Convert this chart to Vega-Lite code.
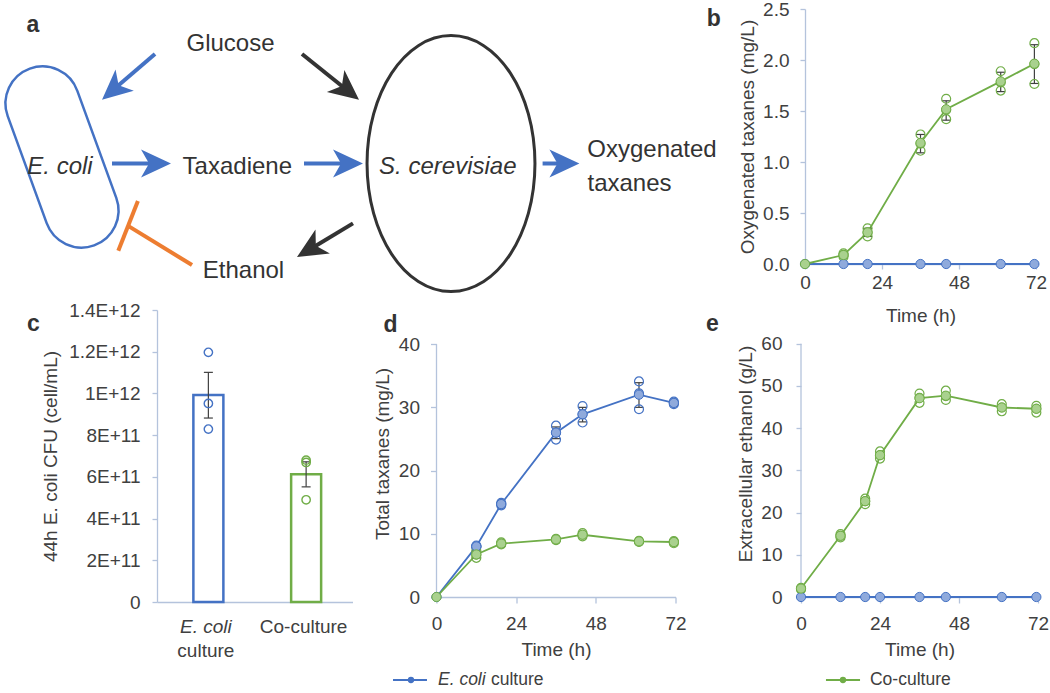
{
"$schema": "https://vega.github.io/schema/vega-lite/v6.json",
"background": "white",
"padding": 0,
"bounds": "flush",
"spacing": 301,
"resolve": {"scale": {"color": "independent", "stroke": "independent", "fill": "independent"}},
"config": {
 "font": "Liberation Sans",
 "view": {"stroke": null},
 "axis": {"domainColor": "#b4c3dc", "domainWidth": 1.3, "tickColor": "#b4c3dc", "tickWidth": 1.3, "tickSize": 5, "labelColor": "#404040", "labelFontSize": 19, "titleColor": "#404040", "titleFontSize": 19, "titleFontWeight": "normal", "grid": false, "labelFlush": false, "labelOverlap": false}
},
"datasets": {
 "cells": [
  {"name": "E. coli", "x": 6.2, "y": 15.6},
  {"name": "S. cerevisiae", "x": 45.1, "y": 16.26}
 ],
 "diagram_text": [
  {"label": "Glucose", "kind": "compound", "x": 23.05, "y": 4.95},
  {"label": "E. coli", "kind": "organism", "x": 6.0, "y": 17.3},
  {"label": "Taxadiene", "kind": "compound", "x": 23.73, "y": 17.3},
  {"label": "S. cerevisiae", "kind": "organism", "x": 44.78, "y": 17.3},
  {"label": "Oxygenated", "kind": "compound", "x": 65.2, "y": 15.6},
  {"label": "taxanes", "kind": "compound", "x": 62.95, "y": 19.0},
  {"label": "Ethanol", "kind": "compound", "x": 24.35, "y": 27.7}
 ],
 "diagram_arrows": [
  {"from": "Glucose", "to": "E. coli", "kind": "engineered", "x": 15.5, "y": 5.3, "x2": 11.71, "y2": 8.56, "tx": 10.2, "ty": 9.87, "angle": 139.2},
  {"from": "Glucose", "to": "S. cerevisiae", "kind": "native", "x": 30.2, "y": 5.3, "x2": 34.34, "y2": 8.62, "tx": 35.9, "ty": 9.87, "angle": 38.7},
  {"from": "E. coli", "to": "Taxadiene", "kind": "engineered", "x": 11.2, "y": 16.25, "x2": 15.1, "y2": 16.25, "tx": 17.1, "ty": 16.25, "angle": 0},
  {"from": "Taxadiene", "to": "S. cerevisiae", "kind": "engineered", "x": 30.4, "y": 16.25, "x2": 34.3, "y2": 16.25, "tx": 36.3, "ty": 16.25, "angle": 0},
  {"from": "S. cerevisiae", "to": "Oxygenated taxanes", "kind": "engineered", "x": 54.26, "y": 16.25, "x2": 55.94, "y2": 16.25, "tx": 57.94, "ty": 16.25, "angle": 0},
  {"from": "S. cerevisiae", "to": "Ethanol", "kind": "native", "x": 35.3, "y": 22.24, "x2": 31.42, "y2": 24.57, "tx": 29.7, "ty": 25.6, "angle": 149},
  {"from": "Ethanol", "to": "E. coli", "kind": "inhibition", "part": "line", "x": 19.2, "y": 26.4, "x2": 12.81, "y2": 22.49},
  {"from": "Ethanol", "to": "E. coli", "kind": "inhibition", "part": "bar", "x": 13.79, "y": 20.0, "x2": 11.83, "y2": 24.97}
 ],
 "b_mean": [
  {"series": "E. coli culture", "t": 0, "mean": 0, "lo": 0, "hi": 0},
  {"series": "E. coli culture", "t": 12, "mean": 0, "lo": 0, "hi": 0},
  {"series": "E. coli culture", "t": 19.5, "mean": 0, "lo": 0, "hi": 0},
  {"series": "E. coli culture", "t": 36, "mean": 0, "lo": 0, "hi": 0},
  {"series": "E. coli culture", "t": 44, "mean": 0, "lo": 0, "hi": 0},
  {"series": "E. coli culture", "t": 61, "mean": 0, "lo": 0, "hi": 0},
  {"series": "E. coli culture", "t": 71.5, "mean": 0, "lo": 0, "hi": 0},
  {"series": "Co-culture", "t": 0, "mean": 0, "lo": 0, "hi": 0},
  {"series": "Co-culture", "t": 12, "mean": 0.088, "lo": 0.075, "hi": 0.1},
  {"series": "Co-culture", "t": 19.5, "mean": 0.31, "lo": 0.27, "hi": 0.35},
  {"series": "Co-culture", "t": 36, "mean": 1.187, "lo": 1.09, "hi": 1.27},
  {"series": "Co-culture", "t": 44, "mean": 1.517, "lo": 1.41, "hi": 1.6},
  {"series": "Co-culture", "t": 61, "mean": 1.79, "lo": 1.69, "hi": 1.88},
  {"series": "Co-culture", "t": 71.5, "mean": 1.964, "lo": 1.77, "hi": 2.15}
 ],
 "b_reps": [
  {"series": "Co-culture", "t": 12, "value": 0.07}, {"series": "Co-culture", "t": 12, "value": 0.09}, {"series": "Co-culture", "t": 12, "value": 0.105},
  {"series": "Co-culture", "t": 19.5, "value": 0.35}, {"series": "Co-culture", "t": 19.5, "value": 0.31}, {"series": "Co-culture", "t": 19.5, "value": 0.27},
  {"series": "Co-culture", "t": 36, "value": 1.27}, {"series": "Co-culture", "t": 36, "value": 1.18}, {"series": "Co-culture", "t": 36, "value": 1.11},
  {"series": "Co-culture", "t": 44, "value": 1.62}, {"series": "Co-culture", "t": 44, "value": 1.51}, {"series": "Co-culture", "t": 44, "value": 1.42},
  {"series": "Co-culture", "t": 61, "value": 1.89}, {"series": "Co-culture", "t": 61, "value": 1.78}, {"series": "Co-culture", "t": 61, "value": 1.7},
  {"series": "Co-culture", "t": 71.5, "value": 2.165}, {"series": "Co-culture", "t": 71.5, "value": 1.96}, {"series": "Co-culture", "t": 71.5, "value": 1.765}
 ],
 "c_mean": [
  {"culture": "E. coli culture", "mean": 993000000000, "lo": 882000000000, "hi": 1101000000000},
  {"culture": "Co-culture", "mean": 613000000000, "lo": 552000000000, "hi": 672000000000}
 ],
 "c_reps": [
  {"culture": "E. coli culture", "value": 1197000000000},
  {"culture": "E. coli culture", "value": 952000000000},
  {"culture": "E. coli culture", "value": 829000000000},
  {"culture": "Co-culture", "value": 680000000000},
  {"culture": "Co-culture", "value": 669000000000},
  {"culture": "Co-culture", "value": 490000000000}
 ],
 "d_mean": [
  {"series": "E. coli culture", "t": 0, "mean": 0, "lo": 0, "hi": 0},
  {"series": "E. coli culture", "t": 12, "mean": 8.0, "lo": 7.85, "hi": 8.15},
  {"series": "E. coli culture", "t": 19.5, "mean": 14.7, "lo": 14.5, "hi": 14.9},
  {"series": "E. coli culture", "t": 36, "mean": 26.0, "lo": 25.05, "hi": 26.9},
  {"series": "E. coli culture", "t": 44, "mean": 28.9, "lo": 27.7, "hi": 30.0},
  {"series": "E. coli culture", "t": 61, "mean": 32.0, "lo": 30.0, "hi": 33.9},
  {"series": "E. coli culture", "t": 71.5, "mean": 30.7, "lo": 30.5, "hi": 30.9},
  {"series": "Co-culture", "t": 0, "mean": 0, "lo": 0, "hi": 0},
  {"series": "Co-culture", "t": 12, "mean": 6.73, "lo": 6.2, "hi": 7.25},
  {"series": "Co-culture", "t": 19.5, "mean": 8.45, "lo": 8.25, "hi": 8.65},
  {"series": "Co-culture", "t": 36, "mean": 9.1, "lo": 9.0, "hi": 9.2},
  {"series": "Co-culture", "t": 44, "mean": 9.85, "lo": 9.6, "hi": 10.1},
  {"series": "Co-culture", "t": 61, "mean": 8.8, "lo": 8.7, "hi": 8.9},
  {"series": "Co-culture", "t": 71.5, "mean": 8.7, "lo": 8.55, "hi": 8.85}
 ],
 "d_reps": [
  {"series": "E. coli culture", "t": 12, "value": 7.9}, {"series": "E. coli culture", "t": 12, "value": 8.0}, {"series": "E. coli culture", "t": 12, "value": 8.15},
  {"series": "E. coli culture", "t": 19.5, "value": 14.5}, {"series": "E. coli culture", "t": 19.5, "value": 14.7}, {"series": "E. coli culture", "t": 19.5, "value": 14.9},
  {"series": "E. coli culture", "t": 36, "value": 27.1}, {"series": "E. coli culture", "t": 36, "value": 26.0}, {"series": "E. coli culture", "t": 36, "value": 24.9},
  {"series": "E. coli culture", "t": 44, "value": 30.2}, {"series": "E. coli culture", "t": 44, "value": 28.9}, {"series": "E. coli culture", "t": 44, "value": 27.6},
  {"series": "E. coli culture", "t": 61, "value": 34.1}, {"series": "E. coli culture", "t": 61, "value": 32.2}, {"series": "E. coli culture", "t": 61, "value": 29.7},
  {"series": "E. coli culture", "t": 71.5, "value": 30.5}, {"series": "E. coli culture", "t": 71.5, "value": 30.7}, {"series": "E. coli culture", "t": 71.5, "value": 30.9},
  {"series": "Co-culture", "t": 12, "value": 7.3}, {"series": "Co-culture", "t": 12, "value": 6.7}, {"series": "Co-culture", "t": 12, "value": 6.2},
  {"series": "Co-culture", "t": 19.5, "value": 8.3}, {"series": "Co-culture", "t": 19.5, "value": 8.45}, {"series": "Co-culture", "t": 19.5, "value": 8.65},
  {"series": "Co-culture", "t": 36, "value": 9.0}, {"series": "Co-culture", "t": 36, "value": 9.1}, {"series": "Co-culture", "t": 36, "value": 9.2},
  {"series": "Co-culture", "t": 44, "value": 9.6}, {"series": "Co-culture", "t": 44, "value": 9.85}, {"series": "Co-culture", "t": 44, "value": 10.1},
  {"series": "Co-culture", "t": 61, "value": 8.7}, {"series": "Co-culture", "t": 61, "value": 8.8}, {"series": "Co-culture", "t": 61, "value": 8.9},
  {"series": "Co-culture", "t": 71.5, "value": 8.5}, {"series": "Co-culture", "t": 71.5, "value": 8.7}, {"series": "Co-culture", "t": 71.5, "value": 8.85}
 ],
 "e_mean": [
  {"series": "E. coli culture", "t": 0, "mean": 0, "lo": 0, "hi": 0},
  {"series": "E. coli culture", "t": 12, "mean": 0, "lo": 0, "hi": 0},
  {"series": "E. coli culture", "t": 19.5, "mean": 0, "lo": 0, "hi": 0},
  {"series": "E. coli culture", "t": 24, "mean": 0, "lo": 0, "hi": 0},
  {"series": "E. coli culture", "t": 36, "mean": 0, "lo": 0, "hi": 0},
  {"series": "E. coli culture", "t": 44, "mean": 0, "lo": 0, "hi": 0},
  {"series": "E. coli culture", "t": 61, "mean": 0, "lo": 0, "hi": 0},
  {"series": "E. coli culture", "t": 71.5, "mean": 0, "lo": 0, "hi": 0},
  {"series": "Co-culture", "t": 0, "mean": 2.0, "lo": 1.8, "hi": 2.2},
  {"series": "Co-culture", "t": 12, "mean": 14.5, "lo": 14.1, "hi": 14.9},
  {"series": "Co-culture", "t": 19.5, "mean": 22.7, "lo": 22.1, "hi": 23.3},
  {"series": "Co-culture", "t": 24, "mean": 33.6, "lo": 32.9, "hi": 34.4},
  {"series": "Co-culture", "t": 36, "mean": 47.1, "lo": 46.1, "hi": 48.1},
  {"series": "Co-culture", "t": 44, "mean": 47.7, "lo": 46.6, "hi": 48.8},
  {"series": "Co-culture", "t": 61, "mean": 44.9, "lo": 44.1, "hi": 45.7},
  {"series": "Co-culture", "t": 71.5, "mean": 44.6, "lo": 43.8, "hi": 45.3}
 ],
 "e_reps": [
  {"series": "Co-culture", "t": 0, "value": 1.8}, {"series": "Co-culture", "t": 0, "value": 2.0}, {"series": "Co-culture", "t": 0, "value": 2.2},
  {"series": "Co-culture", "t": 12, "value": 14.1}, {"series": "Co-culture", "t": 12, "value": 14.5}, {"series": "Co-culture", "t": 12, "value": 14.9},
  {"series": "Co-culture", "t": 19.5, "value": 22.0}, {"series": "Co-culture", "t": 19.5, "value": 22.7}, {"series": "Co-culture", "t": 19.5, "value": 23.3},
  {"series": "Co-culture", "t": 24, "value": 32.8}, {"series": "Co-culture", "t": 24, "value": 33.6}, {"series": "Co-culture", "t": 24, "value": 34.5},
  {"series": "Co-culture", "t": 36, "value": 46.0}, {"series": "Co-culture", "t": 36, "value": 47.2}, {"series": "Co-culture", "t": 36, "value": 48.2},
  {"series": "Co-culture", "t": 44, "value": 46.7}, {"series": "Co-culture", "t": 44, "value": 47.6}, {"series": "Co-culture", "t": 44, "value": 48.9},
  {"series": "Co-culture", "t": 61, "value": 44.0}, {"series": "Co-culture", "t": 61, "value": 44.9}, {"series": "Co-culture", "t": 61, "value": 45.7},
  {"series": "Co-culture", "t": 71.5, "value": 43.7}, {"series": "Co-culture", "t": 71.5, "value": 44.6}, {"series": "Co-culture", "t": 71.5, "value": 45.3}
 ]
},
"vconcat": [
 {
  "bounds": "flush",
  "spacing": 20,
  "resolve": {"scale": {"color": "independent", "stroke": "independent", "fill": "independent"}},
  "hconcat": [
   {
    "width": 628, "height": 282,
    "layer": [
     {"data": {"name": "cells"}, "transform": [{"filter": "datum.name == 'E. coli'"}],
      "mark": {"type": "point", "shape": "M-0.394,-0.606A0.394,0.394,0,0,1,0.394,-0.606L0.394,0.606A0.394,0.394,0,0,1,-0.394,0.606Z", "size": 35344, "angle": -20, "filled": false, "stroke": "#4472c4", "strokeWidth": 2.5, "opacity": 1},
      "encoding": {"x": {"field": "x", "type": "quantitative", "scale": {"domain": [15.7, 78.5], "nice": false, "zero": false}, "axis": null}, "y": {"field": "y", "type": "quantitative", "scale": {"domain": [0.8, 29.0], "nice": false, "zero": false, "reverse": true}, "axis": null}}},
     {"data": {"name": "cells"}, "transform": [{"filter": "datum.name == 'S. cerevisiae'"}],
      "mark": {"type": "point", "shape": "M0,-1A0.656,1,0,1,1,0,1A0.656,1,0,1,1,0,-1Z", "size": 65536, "filled": false, "stroke": "#333333", "strokeWidth": 3, "opacity": 1},
      "encoding": {"x": {"field": "x", "type": "quantitative", "axis": null}, "y": {"field": "y", "type": "quantitative", "axis": null}}},
     {"data": {"name": "diagram_arrows"},
      "mark": {"type": "rule", "strokeWidth": 4},
      "encoding": {"x": {"field": "x", "type": "quantitative", "axis": null}, "y": {"field": "y", "type": "quantitative", "axis": null}, "x2": {"field": "x2"}, "y2": {"field": "y2"},
       "color": {"field": "kind", "type": "nominal", "scale": {"domain": ["engineered", "native", "inhibition"], "range": ["#4472c4", "#333333", "#ed7d31"]}, "legend": null}}},
     {"data": {"name": "diagram_arrows"}, "transform": [{"filter": "datum.kind != 'inhibition'"}],
      "mark": {"type": "point", "shape": "M0,0L-2.14,-1L-1.57,0L-2.14,1Z", "size": 784, "filled": true, "strokeWidth": 0, "opacity": 1},
      "encoding": {"x": {"field": "tx", "type": "quantitative", "axis": null}, "y": {"field": "ty", "type": "quantitative", "axis": null}, "angle": {"field": "angle", "type": "quantitative", "scale": null},
       "color": {"field": "kind", "type": "nominal", "legend": null}}},
     {"data": {"name": "diagram_text"}, "transform": [{"filter": "datum.kind == 'compound'"}],
      "mark": {"type": "text", "fontSize": 24, "color": "#333333", "align": "center", "baseline": "alphabetic"},
      "encoding": {"x": {"field": "x", "type": "quantitative", "axis": null}, "y": {"field": "y", "type": "quantitative", "axis": null}, "text": {"field": "label"}}},
     {"data": {"name": "diagram_text"}, "transform": [{"filter": "datum.kind == 'organism'"}],
      "mark": {"type": "text", "fontSize": 24, "fontStyle": "italic", "color": "#333333", "align": "center", "baseline": "alphabetic"},
      "encoding": {"x": {"field": "x", "type": "quantitative", "axis": null}, "y": {"field": "y", "type": "quantitative", "axis": null}, "text": {"field": "label"}}},
     {"data": {"values": [{"panel": "a"}]},
      "mark": {"type": "text", "fontSize": 23, "fontWeight": "bold", "color": "#333333", "align": "left", "baseline": "alphabetic"},
      "encoding": {"x": {"datum": 2.65, "type": "quantitative"}, "y": {"datum": 3.06, "type": "quantitative"}, "text": {"field": "panel"}}}
    ]
   },
   {
    "width": 231, "height": 255,
    "layer": [
     {"data": {"name": "b_mean"}, "mark": {"type": "line", "strokeWidth": 1.8},
      "encoding": {
       "x": {"field": "t", "type": "quantitative", "scale": {"domain": [0, 72], "nice": false}, "axis": {"values": [0, 24, 48, 72], "title": "Time (h)", "labelPadding": 4, "titlePadding": 14}},
       "y": {"field": "mean", "type": "quantitative", "scale": {"domain": [0, 2.5], "nice": false}, "axis": {"values": [0, 0.5, 1, 1.5, 2, 2.5], "format": ".1f", "title": "Oxygenated taxanes (mg/L)", "labelPadding": 11, "titlePadding": 5}},
       "color": {"field": "series", "type": "nominal", "scale": {"domain": ["E. coli culture", "Co-culture"], "range": ["#4472c4", "#70ad47"]}, "legend": null}}},
     {"data": {"name": "b_mean"}, "mark": {"type": "rule", "color": "#404040", "strokeWidth": 1.2},
      "encoding": {"x": {"field": "t", "type": "quantitative", "title": "Time (h)"}, "y": {"field": "lo", "type": "quantitative", "title": "Oxygenated taxanes (mg/L)"}, "y2": {"field": "hi"}}},
     {"data": {"name": "b_mean"}, "mark": {"type": "point", "shape": "M-1,0L1,0", "size": 81, "filled": false, "stroke": "#404040", "strokeWidth": 1.2, "opacity": 1},
      "encoding": {"x": {"field": "t", "type": "quantitative", "title": "Time (h)"}, "y": {"field": "lo", "type": "quantitative", "title": "Oxygenated taxanes (mg/L)"}}},
     {"data": {"name": "b_mean"}, "mark": {"type": "point", "shape": "M-1,0L1,0", "size": 81, "filled": false, "stroke": "#404040", "strokeWidth": 1.2, "opacity": 1},
      "encoding": {"x": {"field": "t", "type": "quantitative", "title": "Time (h)"}, "y": {"field": "hi", "type": "quantitative", "title": "Oxygenated taxanes (mg/L)"}}},
     {"data": {"name": "b_reps"}, "mark": {"type": "point", "size": 80, "filled": false, "strokeWidth": 1.2, "opacity": 1},
      "encoding": {"x": {"field": "t", "type": "quantitative", "title": "Time (h)"}, "y": {"field": "value", "type": "quantitative", "title": "Oxygenated taxanes (mg/L)"},
       "stroke": {"field": "series", "type": "nominal", "scale": {"domain": ["E. coli culture", "Co-culture"], "range": ["#4472c4", "#70ad47"]}, "legend": null}}},
     {"data": {"name": "b_mean"}, "mark": {"type": "circle", "size": 85, "strokeWidth": 1, "opacity": 1},
      "encoding": {"x": {"field": "t", "type": "quantitative", "title": "Time (h)"}, "y": {"field": "mean", "type": "quantitative", "title": "Oxygenated taxanes (mg/L)"},
       "fill": {"field": "series", "type": "nominal", "scale": {"domain": ["E. coli culture", "Co-culture"], "range": ["#8faadc", "#a9d18e"]}, "legend": null},
       "stroke": {"field": "series", "type": "nominal", "legend": null}}},
     {"data": {"values": [{"panel": "b"}]},
      "mark": {"type": "text", "fontSize": 23, "fontWeight": "bold", "color": "#333333", "align": "left", "baseline": "alphabetic", "dx": -98.3, "dy": 17.3},
      "encoding": {"x": {"datum": 0, "type": "quantitative"}, "y": {"datum": 2.5, "type": "quantitative"}, "text": {"field": "panel"}}}
    ]
   }
  ]
 },
 {
  "spacing": 9,
  "resolve": {"scale": {"color": "independent", "stroke": "independent", "fill": "independent"}},
  "vconcat": [
   {
    "spacing": 19.5,
    "resolve": {"scale": {"color": "independent", "stroke": "independent", "fill": "independent"}},
    "hconcat": [
     {
      "width": 195.5, "height": 292,
      "layer": [
       {"data": {"name": "c_mean"}, "mark": {"type": "bar", "width": 30, "fill": "white", "strokeWidth": 2.5, "xOffset": 2.5},
        "encoding": {
         "x": {"field": "culture", "type": "nominal", "sort": null, "scale": {"domain": ["E. coli culture", "Co-culture"], "paddingInner": 0, "paddingOuter": 0}, "axis": {"labels": false, "ticks": false, "title": null}},
         "y": {"field": "mean", "type": "quantitative", "scale": {"domain": [0, 1400000000000], "nice": false}, "axis": {"values": [0, 200000000000, 400000000000, 600000000000, 800000000000, 1000000000000, 1200000000000, 1400000000000], "labelExpr": "datum.value == 0 ? '0' : upper(format(datum.value, '.2~e'))", "title": "44h E. coli CFU (cell/mL)", "labelPadding": 12, "titlePadding": 8}},
         "stroke": {"field": "culture", "type": "nominal", "scale": {"domain": ["E. coli culture", "Co-culture"], "range": ["#4472c4", "#70ad47"]}, "legend": null}}},
       {"data": {"name": "c_mean"}, "mark": {"type": "rule", "color": "#404040", "strokeWidth": 1.2, "xOffset": 2.5},
        "encoding": {"x": {"field": "culture", "type": "nominal", "title": null}, "y": {"field": "lo", "type": "quantitative", "title": "44h E. coli CFU (cell/mL)"}, "y2": {"field": "hi"}}},
       {"data": {"name": "c_mean"}, "mark": {"type": "point", "shape": "M-1,0L1,0", "size": 81, "filled": false, "stroke": "#404040", "strokeWidth": 1.2, "opacity": 1, "xOffset": 2.5},
        "encoding": {"x": {"field": "culture", "type": "nominal", "title": null}, "y": {"field": "lo", "type": "quantitative", "title": "44h E. coli CFU (cell/mL)"}}},
       {"data": {"name": "c_mean"}, "mark": {"type": "point", "shape": "M-1,0L1,0", "size": 81, "filled": false, "stroke": "#404040", "strokeWidth": 1.2, "opacity": 1, "xOffset": 2.5},
        "encoding": {"x": {"field": "culture", "type": "nominal", "title": null}, "y": {"field": "hi", "type": "quantitative", "title": "44h E. coli CFU (cell/mL)"}}},
       {"data": {"name": "c_reps"}, "mark": {"type": "point", "size": 70, "filled": false, "strokeWidth": 1.4, "opacity": 1, "xOffset": 2.5},
        "encoding": {"x": {"field": "culture", "type": "nominal", "title": null}, "y": {"field": "value", "type": "quantitative", "title": "44h E. coli CFU (cell/mL)"},
         "stroke": {"field": "culture", "type": "nominal", "legend": null}}},
       {"data": {"name": "c_mean"}, "transform": [{"filter": "datum.culture == 'E. coli culture'"}],
        "mark": {"type": "text", "fontSize": 19, "fontStyle": "italic", "color": "#404040", "align": "center", "baseline": "alphabetic", "dy": 31},
        "encoding": {"x": {"field": "culture", "type": "nominal", "title": null}, "y": {"datum": 0, "type": "quantitative"}, "text": {"value": "E. coli"}}},
       {"data": {"name": "c_mean"}, "transform": [{"filter": "datum.culture == 'E. coli culture'"}],
        "mark": {"type": "text", "fontSize": 19, "color": "#404040", "align": "center", "baseline": "alphabetic", "dy": 55},
        "encoding": {"x": {"field": "culture", "type": "nominal", "title": null}, "y": {"datum": 0, "type": "quantitative"}, "text": {"value": "culture"}}},
       {"data": {"name": "c_mean"}, "transform": [{"filter": "datum.culture == 'Co-culture'"}],
        "mark": {"type": "text", "fontSize": 19, "color": "#404040", "align": "center", "baseline": "alphabetic", "dy": 31},
        "encoding": {"x": {"field": "culture", "type": "nominal", "title": null}, "y": {"datum": 0, "type": "quantitative"}, "text": {"value": "Co-culture"}}},
       {"data": {"values": [{"panel": "c"}]},
        "mark": {"type": "text", "fontSize": 23, "fontWeight": "bold", "color": "#333333", "align": "left", "baseline": "alphabetic", "dx": -179, "dy": 20.7},
        "encoding": {"x": {"datum": "E. coli culture", "type": "nominal"}, "y": {"datum": 1400000000000, "type": "quantitative"}, "text": {"field": "panel"}}}
      ]
     },
     {
      "width": 239, "height": 287,
      "layer": [
       {"data": {"values": [{"axis": "y"}]}, "mark": {"type": "rule", "color": "#b4c3dc", "strokeWidth": 1.3},
        "encoding": {"x": {"datum": 0, "type": "quantitative", "scale": {"domain": [0, 72], "nice": false}, "axis": {"values": [0, 24, 48, 72], "title": "Time (h)", "labelPadding": 11, "titlePadding": 7.5, "tickSize": 6}},
         "y": {"datum": 0, "type": "quantitative", "scale": {"domain": [0, 45.4], "nice": false}, "axis": {"values": [0, 5, 10, 15, 20, 25, 30, 35, 40], "domain": false, "title": "Total taxanes (mg/L)", "labelPadding": 11, "titlePadding": 6, "tickSize": 6}},
         "y2": {"datum": 40}}},
       {"data": {"name": "d_mean"}, "mark": {"type": "line", "strokeWidth": 1.8},
        "encoding": {"x": {"field": "t", "type": "quantitative", "title": "Time (h)"}, "y": {"field": "mean", "type": "quantitative", "title": "Total taxanes (mg/L)"},
         "color": {"field": "series", "type": "nominal", "scale": {"domain": ["E. coli culture", "Co-culture"], "range": ["#4472c4", "#70ad47"]}, "legend": null}}},
       {"data": {"name": "d_mean"}, "mark": {"type": "rule", "color": "#404040", "strokeWidth": 1.2},
        "encoding": {"x": {"field": "t", "type": "quantitative", "title": "Time (h)"}, "y": {"field": "lo", "type": "quantitative", "title": "Total taxanes (mg/L)"}, "y2": {"field": "hi"}}},
       {"data": {"name": "d_mean"}, "mark": {"type": "point", "shape": "M-1,0L1,0", "size": 81, "filled": false, "stroke": "#404040", "strokeWidth": 1.2, "opacity": 1},
        "encoding": {"x": {"field": "t", "type": "quantitative", "title": "Time (h)"}, "y": {"field": "lo", "type": "quantitative", "title": "Total taxanes (mg/L)"}}},
       {"data": {"name": "d_mean"}, "mark": {"type": "point", "shape": "M-1,0L1,0", "size": 81, "filled": false, "stroke": "#404040", "strokeWidth": 1.2, "opacity": 1},
        "encoding": {"x": {"field": "t", "type": "quantitative", "title": "Time (h)"}, "y": {"field": "hi", "type": "quantitative", "title": "Total taxanes (mg/L)"}}},
       {"data": {"name": "d_reps"}, "mark": {"type": "point", "size": 80, "filled": false, "strokeWidth": 1.2, "opacity": 1},
        "encoding": {"x": {"field": "t", "type": "quantitative", "title": "Time (h)"}, "y": {"field": "value", "type": "quantitative", "title": "Total taxanes (mg/L)"},
         "stroke": {"field": "series", "type": "nominal", "scale": {"domain": ["E. coli culture", "Co-culture"], "range": ["#4472c4", "#70ad47"]}, "legend": null}}},
       {"data": {"name": "d_mean"}, "mark": {"type": "circle", "size": 85, "strokeWidth": 1, "opacity": 1},
        "encoding": {"x": {"field": "t", "type": "quantitative", "title": "Time (h)"}, "y": {"field": "mean", "type": "quantitative", "title": "Total taxanes (mg/L)"},
         "fill": {"field": "series", "type": "nominal", "scale": {"domain": ["E. coli culture", "Co-culture"], "range": ["#8faadc", "#a9d18e"]}, "legend": null},
         "stroke": {"field": "series", "type": "nominal", "legend": null}}},
       {"data": {"values": [{"panel": "d"}]},
        "mark": {"type": "text", "fontSize": 23, "fontWeight": "bold", "color": "#333333", "align": "left", "baseline": "alphabetic", "dx": -53, "dy": 21.5},
        "encoding": {"x": {"datum": 0, "type": "quantitative"}, "y": {"datum": 45.4, "type": "quantitative"}, "text": {"field": "panel"}}}
      ]
     },
     {
      "width": 237, "height": 287,
      "layer": [
       {"data": {"values": [{"axis": "y"}]}, "mark": {"type": "rule", "color": "#b4c3dc", "strokeWidth": 1.3},
        "encoding": {"x": {"datum": 0, "type": "quantitative", "scale": {"domain": [0, 72], "nice": false}, "axis": {"values": [0, 24, 48, 72], "title": "Time (h)", "labelPadding": 11, "titlePadding": 7.5, "tickSize": 6}},
         "y": {"datum": 0, "type": "quantitative", "scale": {"domain": [0, 68], "nice": false}, "axis": {"values": [0, 10, 20, 30, 40, 50, 60], "domain": false, "title": "Extracellular ethanol (g/L)", "labelPadding": 14, "titlePadding": 5}},
         "y2": {"datum": 60}}},
       {"data": {"name": "e_mean"}, "mark": {"type": "line", "strokeWidth": 1.8},
        "encoding": {"x": {"field": "t", "type": "quantitative", "title": "Time (h)"}, "y": {"field": "mean", "type": "quantitative", "title": "Extracellular ethanol (g/L)"},
         "color": {"field": "series", "type": "nominal", "scale": {"domain": ["E. coli culture", "Co-culture"], "range": ["#4472c4", "#70ad47"]}, "legend": null}}},
       {"data": {"name": "e_mean"}, "mark": {"type": "rule", "color": "#404040", "strokeWidth": 1.2},
        "encoding": {"x": {"field": "t", "type": "quantitative", "title": "Time (h)"}, "y": {"field": "lo", "type": "quantitative", "title": "Extracellular ethanol (g/L)"}, "y2": {"field": "hi"}}},
       {"data": {"name": "e_reps"}, "mark": {"type": "point", "size": 80, "filled": false, "strokeWidth": 1.2, "opacity": 1},
        "encoding": {"x": {"field": "t", "type": "quantitative", "title": "Time (h)"}, "y": {"field": "value", "type": "quantitative", "title": "Extracellular ethanol (g/L)"},
         "stroke": {"field": "series", "type": "nominal", "scale": {"domain": ["E. coli culture", "Co-culture"], "range": ["#4472c4", "#70ad47"]}, "legend": null}}},
       {"data": {"name": "e_mean"}, "mark": {"type": "circle", "size": 85, "strokeWidth": 1, "opacity": 1},
        "encoding": {"x": {"field": "t", "type": "quantitative", "title": "Time (h)"}, "y": {"field": "mean", "type": "quantitative", "title": "Extracellular ethanol (g/L)"},
         "fill": {"field": "series", "type": "nominal", "scale": {"domain": ["E. coli culture", "Co-culture"], "range": ["#8faadc", "#a9d18e"]}, "legend": null},
         "stroke": {"field": "series", "type": "nominal", "legend": null}}},
       {"data": {"values": [{"panel": "e"}]},
        "mark": {"type": "text", "fontSize": 23, "fontWeight": "bold", "color": "#333333", "align": "left", "baseline": "alphabetic", "dx": -95, "dy": 20.7},
        "encoding": {"x": {"datum": 0, "type": "quantitative"}, "y": {"datum": 68, "type": "quantitative"}, "text": {"field": "panel"}}}
      ]
     }
    ]
   },
   {
    "width": 880, "height": 20,
    "data": {"values": [{"legend": "series"}]},
    "layer": [
     {"mark": {"type": "rule", "color": "#4472c4", "strokeWidth": 2},
      "encoding": {"x": {"datum": 26.82, "type": "quantitative", "scale": {"domain": [0, 100], "nice": false}, "axis": null}, "x2": {"datum": 30.68}, "y": {"datum": 0.5, "type": "quantitative", "scale": {"domain": [0, 1], "nice": false}, "axis": null}}},
     {"mark": {"type": "circle", "color": "#4472c4", "size": 40, "opacity": 1},
      "encoding": {"x": {"datum": 28.86, "type": "quantitative"}, "y": {"datum": 0.5, "type": "quantitative"}}},
     {"mark": {"type": "text", "fontSize": 17.5, "fontStyle": "italic", "color": "#404040", "align": "left", "baseline": "middle"},
      "encoding": {"x": {"datum": 31.93, "type": "quantitative"}, "y": {"datum": 0.5, "type": "quantitative"}, "text": {"value": "E. coli"}}},
     {"mark": {"type": "text", "fontSize": 17.5, "color": "#404040", "align": "left", "baseline": "middle"},
      "encoding": {"x": {"datum": 37.95, "type": "quantitative"}, "y": {"datum": 0.5, "type": "quantitative"}, "text": {"value": "culture"}}},
     {"mark": {"type": "rule", "color": "#70ad47", "strokeWidth": 2},
      "encoding": {"x": {"datum": 76.02, "type": "quantitative"}, "x2": {"datum": 79.89}, "y": {"datum": 0.5, "type": "quantitative"}}},
     {"mark": {"type": "circle", "color": "#70ad47", "size": 40, "opacity": 1},
      "encoding": {"x": {"datum": 77.95, "type": "quantitative"}, "y": {"datum": 0.5, "type": "quantitative"}}},
     {"mark": {"type": "text", "fontSize": 17.5, "color": "#404040", "align": "left", "baseline": "middle"},
      "encoding": {"x": {"datum": 81.02, "type": "quantitative"}, "y": {"datum": 0.5, "type": "quantitative"}, "text": {"value": "Co-culture"}}}
    ]
   }
  ]
 }
]
}
